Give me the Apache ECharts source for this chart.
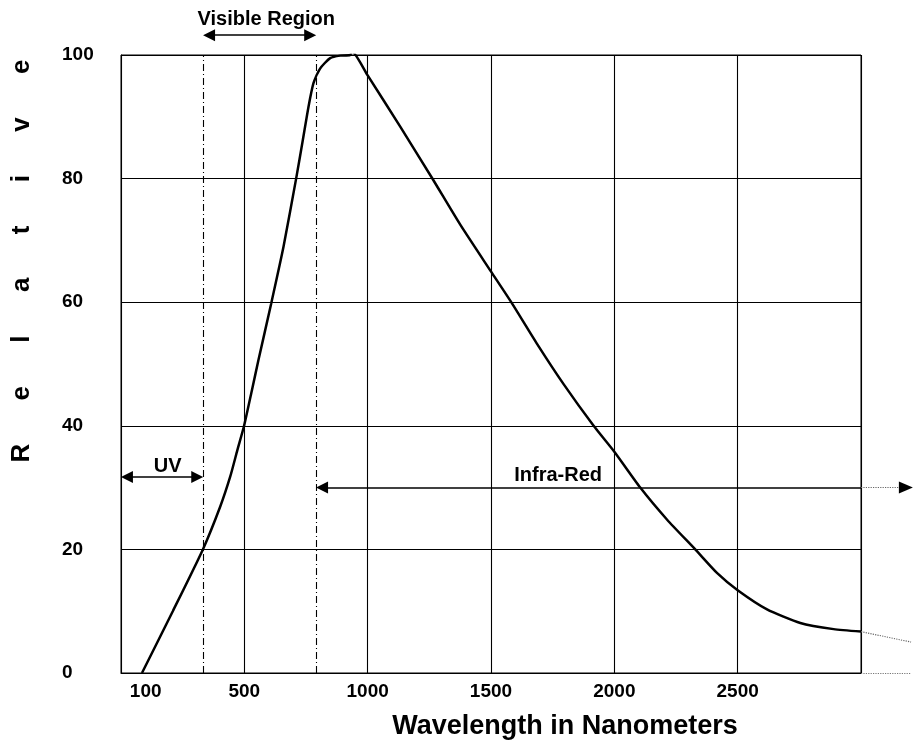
<!DOCTYPE html>
<html>
<head>
<meta charset="utf-8">
<script src="https://cdn.jsdelivr.net/npm/echarts@6/dist/echarts.min.js"></script>
<style>html,body{margin:0;padding:0;background:#fff}#c{width:915px;height:747px}</style>
</head>
<body>
<div id="c"></div>
<script>
// ---- data ----
const wavelengths = [85, 210, 332, 402, 443, 472, 499, 531, 557, 609, 659, 710, 737, 760, 780, 807, 848, 889, 929, 936, 1000, 1132, 1261, 1376, 1501, 1582, 1686, 1795, 1916, 2000, 2105, 2214, 2328, 2416, 2500, 2619, 2754, 2889, 3000];
const relative    = [0, 10, 20, 26.9, 31.8, 36.1, 40, 45.8, 50.6, 59.8, 69, 80, 86.2, 91.6, 95.4, 97.8, 99.5, 99.9, 100, 100.6, 96.7, 88.4, 80.1, 72.5, 64.9, 60, 53.3, 46.7, 40, 35.8, 30, 24.8, 20, 16.2, 13.4, 10.3, 8.1, 7.1, 6.7];
const xTickLabels = [100, 500, 1000, 1500, 2000, 2500];
const yTickLabels = [0, 20, 40, 60, 80, 100];
const uvEdge = 333;        // UV / visible boundary (nm)
const irEdge = 791;        // visible / infra-red boundary (nm)
const extWavelengths = [3000, 3203];   // dotted continuation beyond the plot
const extRelative = [6.7, 5.0];
const regionNames = ['Visible Region', 'UV', 'Infra-Red'];
const regionLabelX = [589, 189, 1772];
const regionLabelY = [105.8, 33.4, 31.9];
// arrow spans (nm) and heights (relative units)
const uvArrow = [24, 309], uvArrowY = 31.7;
const visArrow = [357, 767], visArrowY = 103.2;
const irArrow = [815, 3000, 3165, 3182], irArrowY = 30;

const font = '"Liberation Sans", Arial, sans-serif';
const chart = echarts.init(document.getElementById('c'));

const curve = wavelengths.map((w, i) => [w, relative[i]]);
const ext = extWavelengths.map((w, i) => [w, extRelative[i]]);

const dashDot = { color: '#000', width: 1.1, type: [7, 3, 1, 3] };
const arrowStyle = { color: '#000', width: 1.5, type: 'solid' };
const dotted = { color: '#666', width: 1.2, type: 'dotted' };
const tri = { symbol: 'triangle', symbolSize: [12, 12] };

// Main plot: 121..861 px across (0..3000), 55..673 px down (100..0).
// Overlay grid for annotations: same scale, extended to the canvas edges.
const PX_X = 740 / 3000, PX_Y = 618 / 100;
const overlayXMax = 794 / PX_X;   // 121..915 px
const overlayYMax = 673 / PX_Y;   // 0..673 px

option = {
  animation: false,
  grid: [
    { left: 121, right: 54, top: 55, bottom: 74, show: true, borderColor: '#000', borderWidth: 1 },
    { left: 121, right: 0, top: 0, bottom: 74, show: false }
  ],
  xAxis: [{
    type: 'value', min: 0, max: 3000, interval: 500, gridIndex: 0,
    name: 'Wavelength in Nanometers', nameLocation: 'middle', nameGap: 40,
    nameTextStyle: { fontFamily: font, fontWeight: 'bold', fontSize: 27, color: '#000', padding: [0, 0, 0, 148] },
    axisLine: { lineStyle: { color: '#000' } },
    axisTick: { show: false },
    axisLabel: { customValues: xTickLabels, formatter: v => String(v), fontFamily: font, fontWeight: 'bold', fontSize: 19, color: '#000', margin: 9 },
    splitLine: { show: true, lineStyle: { color: '#000', width: 1.1 } }
  }, {
    type: 'value', min: 0, max: overlayXMax, gridIndex: 1, show: false
  }],
  yAxis: [{
    type: 'value', min: 0, max: 100, interval: 20, gridIndex: 0,
    name: 'R      e      l      a      t      i      v      e', nameLocation: 'middle', nameRotate: 90, nameGap: 86,
    nameTextStyle: { fontFamily: font, fontWeight: 'bold', fontSize: 26, color: '#000', padding: [0, 0, 0, 206] },
    axisLine: { show: true, lineStyle: { color: '#000' } },
    axisTick: { show: false },
    axisLabel: { customValues: yTickLabels, fontFamily: font, fontWeight: 'bold', fontSize: 19, color: '#000', align: 'left', margin: 59 },
    splitLine: { show: true, lineStyle: { color: '#000', width: 1.1 } }
  }, {
    type: 'value', min: 0, max: overlayYMax, gridIndex: 1, show: false
  }],
  series: [
    {
      type: 'line', data: curve, showSymbol: false, smooth: 0.2,
      xAxisIndex: 0, yAxisIndex: 0,
      lineStyle: { color: '#000', width: 2.5 },
      markLine: {
        silent: true, symbol: 'none', animation: false,
        label: { show: false },
        data: [
          [{ coord: [uvEdge, 0], lineStyle: dashDot }, { coord: [uvEdge, 100] }],
          [{ coord: [irEdge, 0], lineStyle: dashDot }, { coord: [irEdge, 100] }]
        ]
      }
    },
    {
      type: 'line', data: ext, showSymbol: false, clip: false,
      xAxisIndex: 1, yAxisIndex: 1,
      lineStyle: dotted,
      markLine: {
        silent: true, symbol: 'none', animation: false,
        label: { show: false },
        data: [
          [{ coord: [visArrow[0], visArrowY], lineStyle: arrowStyle, ...tri }, { coord: [visArrow[1], visArrowY], ...tri }],
          [{ coord: [uvArrow[0], uvArrowY], lineStyle: arrowStyle, ...tri }, { coord: [uvArrow[1], uvArrowY], ...tri }],
          [{ coord: [irArrow[0], irArrowY], lineStyle: arrowStyle, ...tri }, { coord: [irArrow[1], irArrowY], symbol: 'none' }],
          [{ coord: [irArrow[1], irArrowY], lineStyle: dotted }, { coord: [irArrow[2], irArrowY] }],
          [{ coord: [irArrow[2], irArrowY], lineStyle: arrowStyle, symbol: 'none' },
           { coord: [irArrow[3], irArrowY], symbol: 'triangle', symbolSize: [12, 14] }],
          [{ coord: [extWavelengths[0], 0], lineStyle: { color: '#777', width: 1.2, type: 'dotted' } }, { coord: [extWavelengths[1], 0] }]
        ]
      },
      markPoint: {
        silent: true, symbol: 'circle', symbolSize: 0, animation: false,
        label: { show: true, position: 'inside', formatter: '{b}', fontFamily: font, fontWeight: 'bold', fontSize: 20, color: '#000' },
        data: regionNames.map((n, i) => ({ name: n, coord: [regionLabelX[i], regionLabelY[i]] }))
      }
    }
  ]
};
chart.setOption(option);
</script>
</body>
</html>
